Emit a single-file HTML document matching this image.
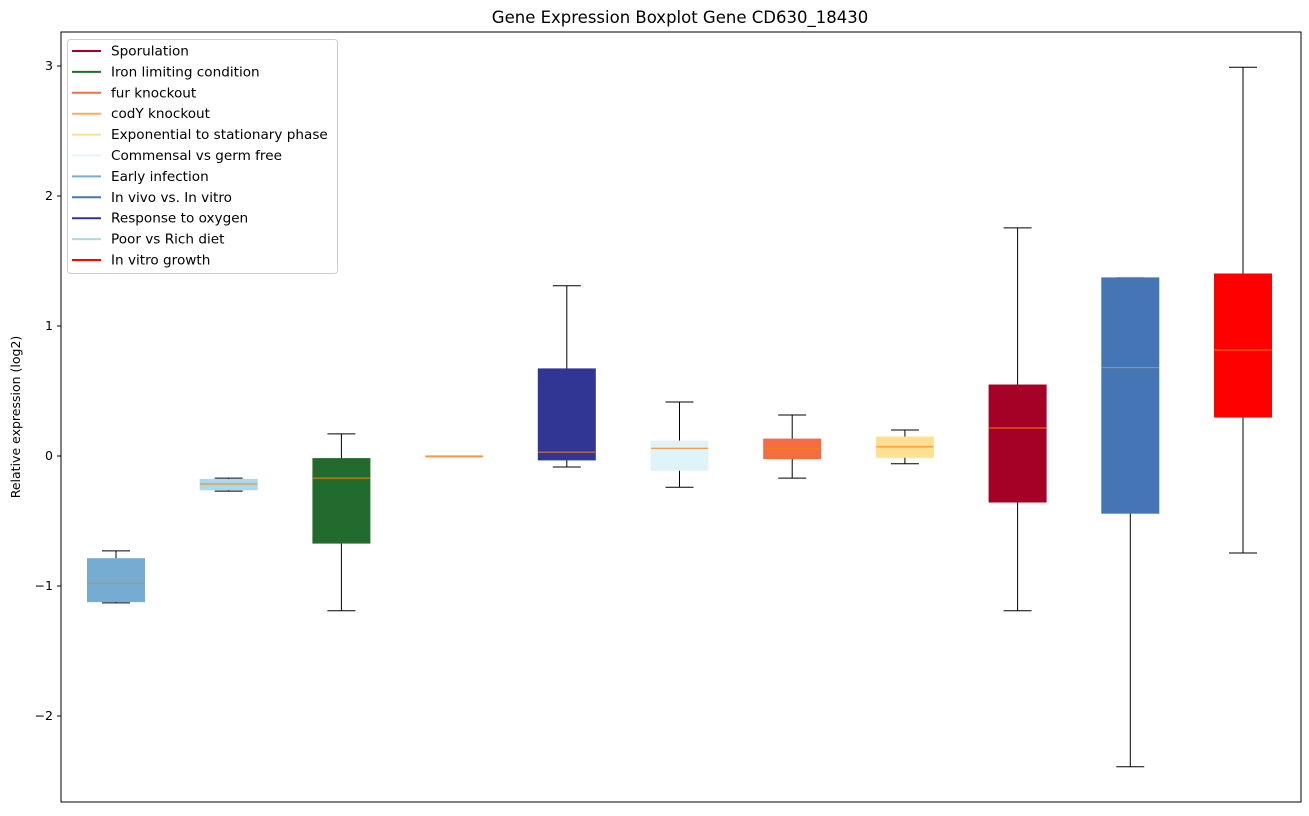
<!DOCTYPE html>
<html><head><meta charset="utf-8"><style>
body{margin:0;background:#fff;font-family:"DejaVu Sans","Liberation Sans",sans-serif;}
</style></head><body>
<svg id="chart" width="1309" height="812" xmlns="http://www.w3.org/2000/svg">
<text x="680" y="23" font-size="16.5" text-anchor="middle">Gene Expression Boxplot Gene CD630_18430</text>
<text transform="translate(20,417) rotate(-90)" font-size="12.5" text-anchor="middle">Relative expression (log2)</text>
<g id="plot"></g>
<rect x="61" y="32" width="1240" height="770" fill="none" stroke="#000" stroke-width="1"/>
<g id="legend"></g>
</svg>
<script>
const categories=["Early infection","Poor vs Rich diet","Iron limiting condition","codY knockout","Response to oxygen","Commensal vs germ free","fur knockout","Exponential to stationary phase","Sporulation","In vivo vs. In vitro","In vitro growth"];
const colors=["#74add1","#abd9e9","#226b2e","#fdae61","#313695","#e0f3f8","#f46d43","#fee090","#a50026","#4575b4","#ff0000"];
const whiskLow=[-1.13,-0.27,-1.19,0,-0.085,-0.24,-0.17,-0.06,-1.19,-2.39,-0.746];
const q1=[-1.12,-0.26,-0.67,0,-0.03,-0.11,-0.02,-0.01,-0.354,-0.44,0.3];
const medians=[-0.98,-0.215,-0.17,0,0.03,0.06,0.06,0.07,0.215,0.68,0.815];
const q3=[-0.79,-0.18,-0.02,0,0.67,0.115,0.13,0.146,0.546,1.37,1.4];
const whiskHigh=[-0.73,-0.17,0.17,0,1.31,0.415,0.315,0.2,1.755,1.37,2.99];
const yTicks=[-2,-1,0,1,2,3];
const legendLabels=["Sporulation","Iron limiting condition","fur knockout","codY knockout","Exponential to stationary phase","Commensal vs germ free","Early infection","In vivo vs. In vitro","Response to oxygen","Poor vs Rich diet","In vitro growth"];
const legendColors=["#a50026","#226b2e","#f46d43","#fdae61","#fee090","#e0f3f8","#74add1","#4575b4","#313695","#abd9e9","#ff0000"];

const NS="http://www.w3.org/2000/svg";
const y=v=>456-v*130;
const x=i=>116+i*112.7;
function mk(tag,attrs,parent){const e=document.createElementNS(NS,tag);for(const k in attrs)e.setAttribute(k,attrs[k]);parent.appendChild(e);return e;}
const plot=document.getElementById('plot');
yTicks.forEach(t=>{
  const g=mk('g',{},plot);
  
  
  mk('line',{x1:57,x2:61,y1:y(t),y2:y(t),stroke:'#000'},g);
  const tx=mk('text',{x:53,y:y(t)+4,'font-size':12.5,'text-anchor':'end'},g);
  tx.textContent=(t<0?'\u2212'+(-t):String(t));
});
const bw=57,cw=28;
categories.forEach((c,i)=>{
  const g=mk('g',{},plot);
  
  
  const cx=x(i);
  mk('line',{x1:cx,x2:cx,y1:y(whiskHigh[i]),y2:y(q3[i]),stroke:'#000'},g);
  mk('line',{x1:cx,x2:cx,y1:y(q1[i]),y2:y(whiskLow[i]),stroke:'#000'},g);
  mk('line',{x1:cx-cw/2,x2:cx+cw/2,y1:y(whiskHigh[i]),y2:y(whiskHigh[i]),stroke:'#000'},g);
  mk('line',{x1:cx-cw/2,x2:cx+cw/2,y1:y(whiskLow[i]),y2:y(whiskLow[i]),stroke:'#000'},g);
  const h=Math.max(y(q1[i])-y(q3[i]),1);
  mk('rect',{x:cx-bw/2,y:y(q3[i]),width:bw,height:h,fill:colors[i],stroke:colors[i]},g);
  mk('line',{x1:cx-bw/2,x2:cx+bw/2,y1:y(medians[i]),y2:y(medians[i]),stroke:'#ff7f0e'},g);
});
const lg=document.getElementById('legend');


mk('rect',{x:67.5,y:39.5,width:270,height:234,rx:3,fill:'#fff','fill-opacity':0.8,stroke:'#ccc'},lg);
legendLabels.forEach((l,i)=>{
  const g=mk('g',{},lg);
  
  
  const yy=51+i*20.9;
  mk('line',{x1:72,x2:101,y1:yy,y2:yy,stroke:legendColors[i],'stroke-width':2},g);
  const t=mk('text',{x:111,y:yy+4.5,'font-size':13.6},g);
  t.textContent=l;
});
</script>
</body></html>
